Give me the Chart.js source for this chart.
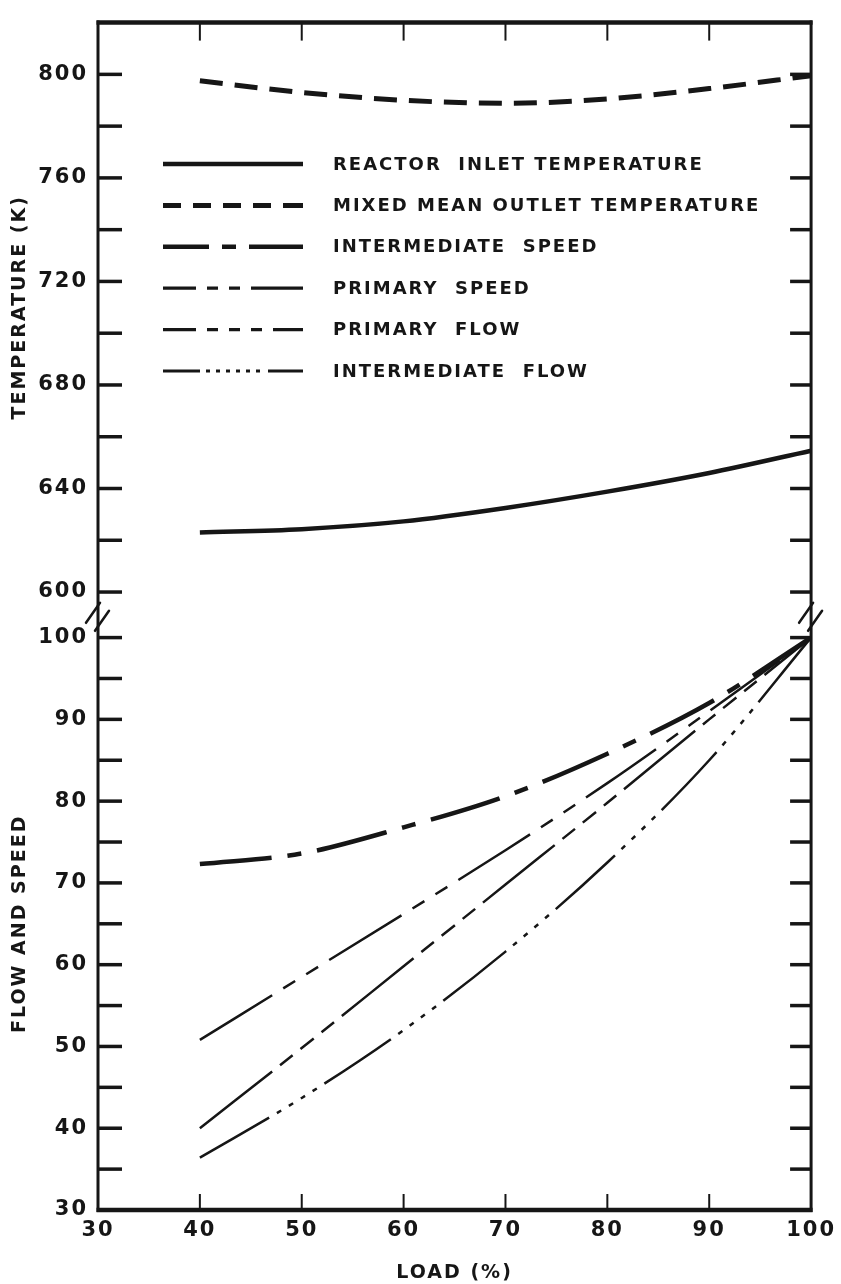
<!DOCTYPE html>
<html>
<head>
<meta charset="utf-8">
<script src="https://cdn.jsdelivr.net/npm/chart.js@4.4.1/dist/chart.umd.min.js"></script>
<style>
html,body{margin:0;padding:0;background:#ffffff;}
#wrap{width:841px;height:1284px;position:relative;}
</style>
</head>
<body>
<div id="wrap"><canvas id="c"></canvas></div>
<script>
// ---- data ----
const load = [40, 50, 60, 70, 80, 90, 100];
const reactorInletTemp    = [623.0, 624.3, 627.3, 632.5, 638.8, 646.0, 654.6];
const mixedMeanOutletTemp = [797.5, 793.0, 790.0, 788.8, 790.5, 794.5, 799.5];
const intermediateSpeed   = [72.3, 73.6, 76.8, 80.6, 85.8, 92.0, 100];
const primarySpeed        = [50.8, 58.5, 66.2, 74.0, 82.2, 91.0, 100];
const primaryFlow         = [40.0, 49.8, 59.8, 69.8, 79.8, 90.0, 100];
const intermediateFlow    = [36.4, 43.7, 52.0, 61.6, 72.5, 85.0, 100];

const xTickLabels    = [30, 40, 50, 60, 70, 80, 90, 100];
const tempTickLabels = [600, 640, 680, 720, 760, 800];
const flowTickLabels = [30, 40, 50, 60, 70, 80, 90, 100];
const seriesNames = [
  'REACTOR  INLET TEMPERATURE',
  'MIXED MEAN OUTLET TEMPERATURE',
  'INTERMEDIATE  SPEED',
  'PRIMARY  SPEED',
  'PRIMARY  FLOW',
  'INTERMEDIATE  FLOW'
];

// ---- styling ----
const INK = '#161616';
Chart.defaults.font.family = '"DejaVu Sans", "Liberation Sans", sans-serif';
Chart.defaults.color = INK;

function pts(arr) { return load.map((x, i) => ({ x: x, y: arr[i] })); }

function ds(i, arr, axis, width, dash, legendDash) {
  return {
    label: seriesNames[i],
    data: pts(arr),
    yAxisID: axis,
    borderColor: INK,
    backgroundColor: INK,
    borderWidth: width,
    borderDash: dash,
    borderCapStyle: 'butt',
    pointRadius: 0,
    fill: false,
    cubicInterpolationMode: 'monotone',
    legendDash: legendDash
  };
}

const datasets = [
  ds(0, reactorInletTemp, 'yT', 4.5, [], []),
  ds(1, mixedMeanOutletTemp, 'yT', 5, [23, 12], [18, 12, 18, 12, 18, 12, 18, 12, 20, 0]),
  ds(2, intermediateSpeed, 'yB', 4.5, [72, 16, 14, 16], [46, 13, 14, 13, 54, 0]),
  ds(3, primarySpeed, 'yB', 2.5, [85, 13, 14, 13, 14, 13], [33, 11, 11, 11, 11, 11, 52, 0]),
  ds(4, primaryFlow, 'yB', 2.5, [92, 10, 16, 10, 17, 10, 16, 10], [33, 11, 11, 11, 11, 11, 11, 11, 30, 0]),
  ds(5, intermediateFlow, 'yB', 2.5, [80, 9, 5, 9, 5, 9, 5, 9, 5, 9], [37, 6, 4, 6, 4, 6, 4, 6, 4, 6, 4, 6, 4, 8, 35, 0])
];

function line(ctx, x1, y1, x2, y2) {
  ctx.beginPath(); ctx.moveTo(x1, y1); ctx.lineTo(x2, y2); ctx.stroke();
}

const decor = {
  id: 'decor',
  beforeDraw(chart) { chart.ctx.letterSpacing = '2px'; },
  afterDraw(chart) {
    const ctx = chart.ctx, a = chart.chartArea, s = chart.scales;
    const yT = s.yT, yB = s.yB, x = s.x;
    ctx.save();
    ctx.letterSpacing = '0px';
    ctx.strokeStyle = INK;
    ctx.lineCap = 'butt';
    ctx.setLineDash([]);
    // frame
    ctx.lineWidth = 3;
    line(ctx, a.left, a.top - 2, a.left, a.bottom + 2);
    line(ctx, a.right, a.top - 2, a.right, a.bottom + 2);
    ctx.lineWidth = 4.5;
    line(ctx, a.left - 1.5, a.top, a.right + 1.5, a.top);
    line(ctx, a.left - 1.5, a.bottom, a.right + 1.5, a.bottom);
    // inward y tick marks on both sides
    ctx.lineWidth = 3.5;
    yT.ticks.forEach(t => {
      if (t.value >= yT.max) return;
      const p = yT.getPixelForValue(t.value);
      line(ctx, a.left, p, a.left + 24, p);
      line(ctx, a.right - 21, p, a.right, p);
    });
    yB.ticks.forEach(t => {
      if (t.value <= yB.min) return;
      const p = yB.getPixelForValue(t.value);
      line(ctx, a.left, p, a.left + 24, p);
      line(ctx, a.right - 21, p, a.right, p);
    });
    // x tick marks top and bottom
    ctx.lineWidth = 2;
    x.ticks.forEach(t => {
      if (t.value <= x.min || t.value >= x.max) return;
      const p = x.getPixelForValue(t.value);
      line(ctx, p, a.top, p, a.top + 18);
      line(ctx, p, a.bottom, p, a.bottom - 16);
    });
    // axis break marks
    const mid = (yT.bottom + yB.top) / 2;
    ctx.lineWidth = 2.5;
    ctx.lineCap = 'round';
    [a.left, a.right].forEach(ax => {
      line(ctx, ax - 12, mid + 8, ax + 2, mid - 12);
      line(ctx, ax - 3, mid + 16, ax + 11, mid - 4);
    });
    ctx.lineCap = 'butt';
    // legend inside the plot
    const ly0 = 164, ldy = 41.4, lx0 = 163, lx1 = 303, tx = 333;
    chart.data.datasets.forEach((d, i) => {
      const y = ly0 + i * ldy;
      ctx.lineWidth = Math.max(3.2, d.borderWidth);
      ctx.setLineDash(d.legendDash);
      line(ctx, lx0, y, lx1, y);
      ctx.setLineDash([]);
      ctx.font = 'bold 18px "DejaVu Sans", sans-serif';
      ctx.letterSpacing = '2px';
      ctx.fillStyle = INK;
      ctx.textBaseline = 'middle';
      ctx.textAlign = 'left';
      ctx.fillText(d.label, tx, y + 1);
    });
    ctx.restore();
  }
};

const tickFont = { size: 21, weight: 'bold' };
const titleFont = { size: 19, weight: 'bold' };

const yCommon = {
  type: 'linear',
  position: 'left',
  stack: 'v',
  grid: { display: false, drawTicks: false },
  border: { display: false },
  afterFit(scale) { scale.width = 98; }
};

new Chart(document.getElementById('c'), {
  type: 'line',
  data: { datasets: datasets },
  plugins: [decor],
  options: {
    responsive: true,
    maintainAspectRatio: false,
    animation: false,
    layout: { padding: { top: 11, right: 21, left: 0, bottom: 0 } },
    plugins: { legend: { display: false }, tooltip: { enabled: false } },
    scales: {
      x: {
        type: 'linear',
        position: 'bottom',
        min: 30, max: 100,
        afterBuildTicks(scale) { scale.ticks = xTickLabels.map(v => ({ value: v })); },
        grid: { display: false, drawTicks: false },
        border: { display: false },
        ticks: { font: tickFont, color: INK, padding: 8, maxRotation: 0, autoSkip: false,
                 callback: v => String(v) },
        title: { display: true, text: 'LOAD (%)', color: INK, font: titleFont,
                 padding: { top: 11, bottom: 0 } },
        afterFit(scale) { scale.height = 74; }
      },
      yT: Object.assign({}, yCommon, {
        weight: 3,
        stackWeight: 575,
        min: 600, max: 820,
        ticks: { stepSize: 20, font: tickFont, color: INK, padding: 10, autoSkip: false,
                 callback: v => tempTickLabels.includes(v) ? String(v) : '' },
        title: { display: true, text: 'TEMPERATURE (K)', color: INK, font: titleFont,
                 padding: { top: 9, bottom: 0 } }
      }),
      yGap: Object.assign({}, yCommon, {
        weight: 2,
        stackWeight: 46,
        min: 0, max: 1,
        ticks: { display: false },
        title: { display: false }
      }),
      yB: Object.assign({}, yCommon, {
        weight: 1,
        stackWeight: 578,
        min: 30, max: 100,
        ticks: { stepSize: 5, font: tickFont, color: INK, padding: 10, autoSkip: false,
                 callback: v => flowTickLabels.includes(v) ? String(v) : '' },
        title: { display: true, text: 'FLOW AND SPEED', color: INK, font: titleFont,
                 padding: { top: 9, bottom: 0 } }
      })
    }
  }
});
</script>
</body>
</html>
